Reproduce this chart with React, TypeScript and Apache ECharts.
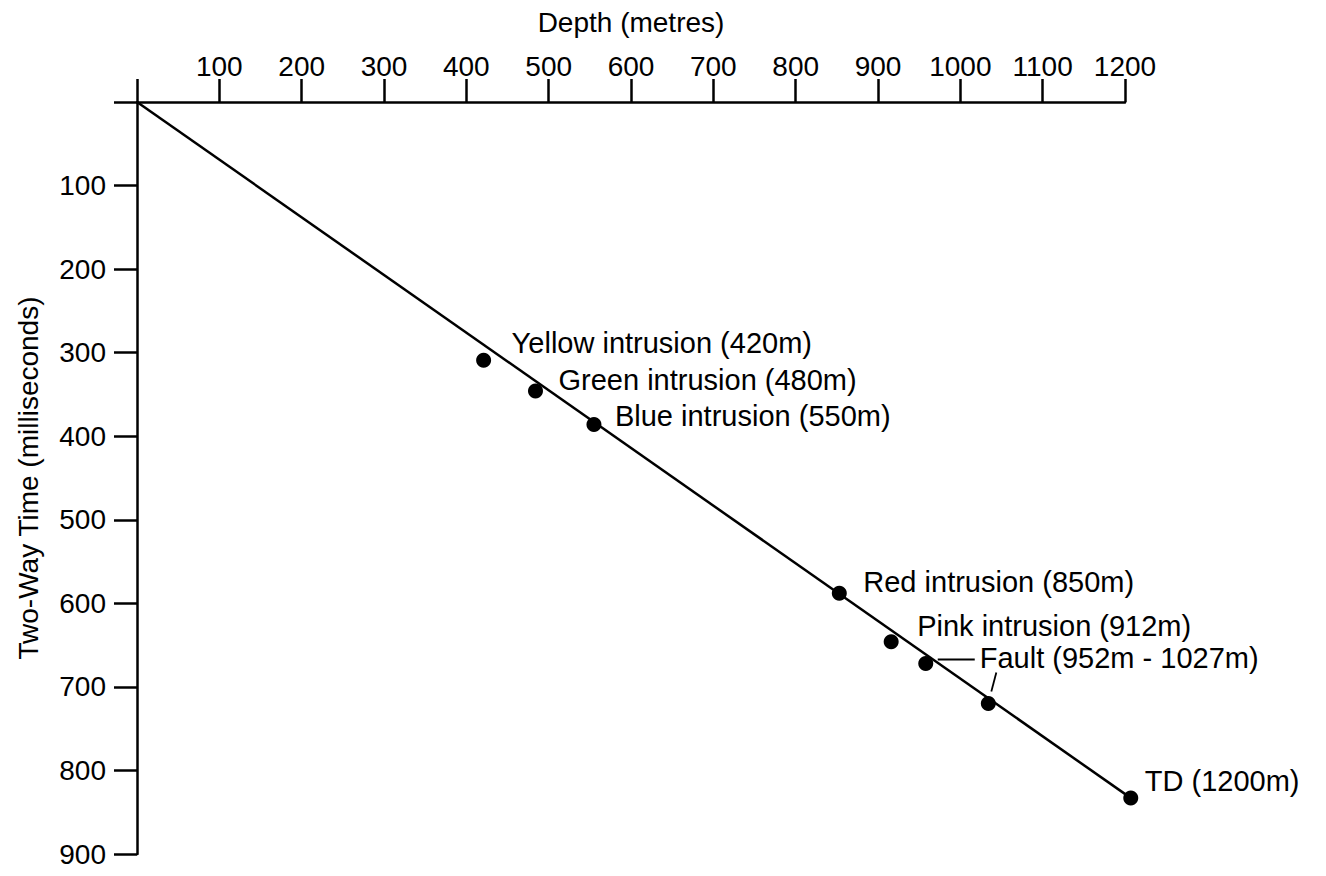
import React, { useEffect, useRef } from "react";
import * as echarts from "echarts";

// Depth axis ticks (metres) and two-way time ticks (ms)
const depthTicks = [0, 100, 200, 300, 400, 500, 600, 700, 800, 900, 1000, 1100, 1200];
const timeTicks = [0, 100, 200, 300, 400, 500, 600, 700, 800, 900];

// Picked horizons (dots)
const pointNames = [
  "Yellow intrusion (420m)",
  "Green intrusion (480m)",
  "Blue intrusion (550m)",
  "Red intrusion (850m)",
  "Pink intrusion (912m)",
  "Fault (952m - 1027m)",
  "",
  "TD (1200m)",
];
const pointDepth = [421, 484, 555, 853, 916, 958, 1034, 1207];
const pointTime = [309, 346, 386, 588, 646, 672, 720, 833];

// Straight time-depth line from surface to TD
const lineDepth = [0, 1207];
const lineTime = [0, 833];

// label placement (pixels, relative to dot centre): [dx to label left, dy of label centre]
const labelOffsets = [
  [28, -17],
  [23, -11],
  [21, -9],
  [24, -11],
  [26, -16],
  [54, -5],
  [0, 0],
  [14, -17],
];

const FONT = "'Liberation Sans', Arial, Helvetica, sans-serif";
const BLACK = "#000";

export default function App() {
  const ref = useRef<HTMLDivElement>(null);

  useEffect(() => {
    if (!ref.current) return;
    const chart = echarts.init(ref.current, null, { renderer: "svg" });

    const scatterData = pointDepth.map((d, i) => ({
      value: [d, pointTime[i]],
      label: {
        show: pointNames[i] !== "",
        formatter: pointNames[i],
        position: "right",
        distance: 0,
        offset: [labelOffsets[i][0] - 7.5, labelOffsets[i][1]],
      },
    }));

    chart.setOption({
      animation: false,
      backgroundColor: "#fff",
      textStyle: { fontFamily: FONT, color: BLACK },
      grid: { left: 137, top: 102, right: 201, bottom: 22, containLabel: false },
      xAxis: {
        type: "value",
        position: "top",
        min: depthTicks[0],
        max: depthTicks[depthTicks.length - 1],
        interval: 100,
        name: "Depth (metres)",
        nameLocation: "middle",
        nameGap: 66,
        nameTextStyle: { fontSize: 28, color: BLACK, fontFamily: FONT },
        axisLine: { show: true, lineStyle: { color: BLACK, width: 2.5 } },
        axisTick: { show: true, length: 23, lineStyle: { color: BLACK, width: 2.5 } },
        axisLabel: {
          fontSize: 28,
          color: BLACK,
          fontFamily: FONT,
          margin: 22,
          formatter: (v: number) => (v === 0 ? "" : String(v)),
        },
        splitLine: { show: false },
      },
      yAxis: {
        type: "value",
        inverse: true,
        min: timeTicks[0],
        max: timeTicks[timeTicks.length - 1],
        interval: 100,
        name: "Two-Way Time (milliseconds)",
        nameLocation: "middle",
        nameGap: 95,
        nameTextStyle: { fontSize: 28, color: BLACK, fontFamily: FONT },
        axisLine: { show: true, lineStyle: { color: BLACK, width: 2.5 } },
        axisTick: { show: true, length: 23, lineStyle: { color: BLACK, width: 2.5 } },
        axisLabel: {
          fontSize: 28,
          color: BLACK,
          fontFamily: FONT,
          margin: 31,
          formatter: (v: number) => (v === 0 ? "" : String(v)),
        },
        splitLine: { show: false },
      },
      series: [
        {
          type: "line",
          data: lineDepth.map((d, i) => [d, lineTime[i]]),
          showSymbol: false,
          clip: false,
          lineStyle: { color: BLACK, width: 2.5 },
          z: 2,
        },
        {
          type: "scatter",
          data: scatterData,
          symbol: "circle",
          symbolSize: 15,
          clip: false,
          itemStyle: { color: BLACK, opacity: 1 },
          label: { color: BLACK, fontSize: 29, fontFamily: FONT, opacity: 1 },
          z: 3,
        },
      ],
    });

    // leader lines for the fault annotation
    const f1 = chart.convertToPixel({ gridIndex: 0 }, [pointDepth[5], pointTime[5]]) as number[];
    const f2 = chart.convertToPixel({ gridIndex: 0 }, [pointDepth[6], pointTime[6]]) as number[];
    chart.setOption({
      graphic: [
        {
          type: "line",
          shape: { x1: f1[0] + 12, y1: f1[1] - 4, x2: f1[0] + 49, y2: f1[1] - 4 },
          style: { stroke: BLACK, lineWidth: 1.8 },
        },
        {
          type: "line",
          shape: { x1: f2[0] + 8, y1: f2[1] - 31, x2: f2[0] + 3, y2: f2[1] - 12 },
          style: { stroke: BLACK, lineWidth: 1.8 },
        },
      ],
    });

    return () => chart.dispose();
  }, []);

  return (
    <div
      ref={ref}
      style={{ position: "fixed", left: 0, top: 0, width: 1326, height: 876, background: "#fff" }}
    />
  );
}
